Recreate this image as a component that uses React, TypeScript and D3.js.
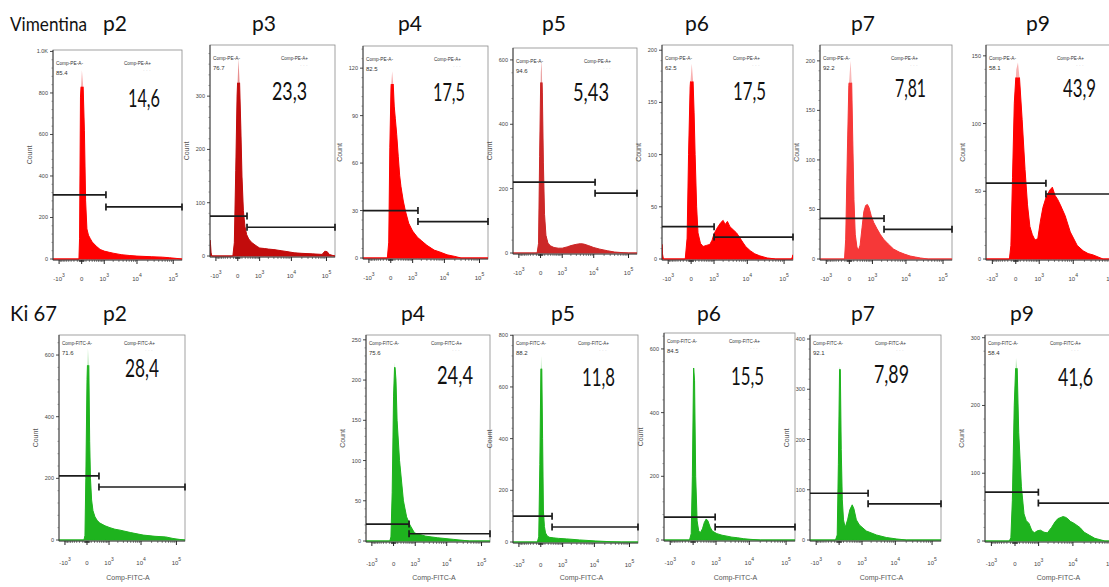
import React from "react";
import * as d3 from "d3";

type Pt = [number, number];

// ---------------- shared axis values ----------------
const SYMLOG_CONSTANT = 320;
const xDomain: [number, number] = [-1616, 173950];
const xMajorTicks = [-1000, 0, 1000, 10000, 100000];
const xMajorBase = ["-10", "0", "10", "10", "10"];
const xMajorExp = ["3", "", "3", "4", "5"];
const xMinorTicks = [
  -900, -800, -700, -600, -500, -400, -300, -200, -100, -50, -40, -30, -20, -10,
  10, 20, 30, 40, 50, 100, 200, 300, 400, 500, 600, 700, 800, 900,
  2000, 3000, 4000, 5000, 6000, 7000, 8000, 9000,
  20000, 30000, 40000, 50000, 60000, 70000, 80000, 90000,
];

// ---------------- Vimentina (Comp-PE-A) ----------------
const vimSamples = ["p2", "p3", "p4", "p5", "p6", "p7", "p9"];
const vimNegPct = ["85.4", "76.7", "82.5", "94.6", "62.5", "92.2", "58.1"];
const vimPosPct = ["14,6", "23,3", "17,5", "5,43", "17,5", "7,81", "43,9"];
const vimYMax = [1007, 396, 134, 637, 205, 216, 158];
const vimYTicks = [
  [0, 200, 400, 600, 800, 1000],
  [0, 100, 200, 300],
  [0, 30, 60, 90, 120],
  [0, 200, 400, 600],
  [0, 50, 100, 150, 200],
  [0, 50, 100, 150, 200],
  [0, 50, 100, 150],
];
const vimGateX = [1150, 262, 1543, 10950, 1005, 2370, 1660];
const vimGateNegY = [309, 75, 30, 220, 31, 41, 56];
const vimGatePosY = [251, 54, 23, 186, 21, 30, 48];

const vimP2: Pt[] = [[-1616,0],[-60,0],[-45,100],[-25,780],[5,910],[30,840],[60,620],[90,280],[125,145],[170,115],[230,98],[300,82],[500,60],[700,46],[1000,38],[1500,32],[2000,28],[3500,21],[6000,17],[10000,14],[25000,11],[50000,9],[80000,6],[120000,3],[173950,0]];
const vimP3: Pt[] = [[-1616,30],[-1560,24],[-1480,6],[-1400,0],[-120,0],[-80,25],[-45,160],[-15,300],[15,370],[40,325],[70,240],[100,150],[140,85],[190,55],[250,40],[330,32],[450,26],[600,22],[800,18],[1000,15],[1500,14],[2000,13],[3000,12],[5000,10],[8000,8],[12000,6],[20000,5],[40000,4],[75000,3],[90000,9],[105000,8],[120000,3],[150000,1],[173950,0]];
const vimP4: Pt[] = [[-1616,0],[-80,0],[-45,10],[-20,70],[5,108],[30,118],[55,110],[80,96],[110,88],[150,78],[200,64],[250,52],[300,45],[400,36],[500,30],[700,22],[1000,17],[1500,13],[2000,11],[3000,8],[5000,5],[8000,3.5],[12000,2],[20000,1],[30000,0],[173950,0]];
const vimP5: Pt[] = [[-1616,0],[-80,0],[-45,30],[-20,300],[5,560],[22,600],[40,500],[65,280],[95,120],[135,55],[200,30],[300,22],[450,17],[700,15],[1000,15],[1500,19],[2000,23],[3000,27],[4000,29],[5000,28],[7000,23],[10000,17],[15000,12],[25000,7],[40000,3],[70000,1],[100000,0],[173950,0]];
const vimP6: Pt[] = [[-1616,14],[-1560,5],[-1450,0],[-140,0],[-90,20],[-55,100],[-20,165],[13,187],[40,172],[65,140],[90,100],[130,50],[170,25],[250,15],[350,12],[500,13],[700,14],[850,18],[1000,24],[1300,30],[1700,35],[2000,37],[2300,33],[2700,36],[3200,31],[4000,28],[5000,25],[6000,21],[7500,16],[9000,12],[12000,8],[16000,5],[22000,3],[35000,1],[60000,0],[160000,0],[173950,4]];
const vimP7: Pt[] = [[-1616,0],[-110,0],[-80,20],[-40,110],[-10,175],[25,200],[50,178],[75,120],[105,60],[140,25],[190,12],[240,9],[300,14],[380,32],[460,48],[550,54],[650,55],[750,52],[900,44],[1100,37],[1400,31],[1800,25],[2300,20],[3200,15],[4500,10],[6500,7],[9000,5],[13000,3],[18000,2],[25000,1],[40000,0],[173950,0]];
const vimP9: Pt[] = [[-1616,0],[-150,0],[-110,10],[-70,60],[-30,115],[10,140],[45,145],[80,134],[150,103],[240,66],[330,40],[430,24],[550,18],[700,14],[890,15],[1100,28],[1330,38],[1700,46],[2200,51],[2600,53],[3100,47],[3700,44],[4400,40],[6000,32],[8300,20],[12800,10],[18500,6],[25000,4],[34000,3],[62000,0],[173950,0]];
const vimHists = [vimP2, vimP3, vimP4, vimP5, vimP6, vimP7, vimP9];

// ---------------- Ki 67 (Comp-FITC-A) ----------------
const kiSamples = ["p2", "p4", "p5", "p6", "p7", "p9"];
const kiNegPct = ["71.6", "75.6", "88.2", "84.5", "92.1", "58.4"];
const kiPosPct = ["28,4", "24,4", "11,8", "15,5", "7,89", "41,6"];
const kiYMax = [665, 256, 801, 650, 408, 304];
const kiYTicks = [
  [0, 200, 400, 600],
  [0, 50, 100, 150, 200, 250],
  [0, 200, 400, 600, 800],
  [0, 200, 400, 600],
  [0, 100, 200, 300, 400],
  [0, 100, 200, 300],
];
const kiGateX = [370, 560, 345, 930, 1600, 980];
const kiGateNegY = [208, 21, 100, 72, 93, 72];
const kiGatePosY = [172, 9, 58, 41, 72, 56];

const kiP2: Pt[] = [[-1616,0],[-70,0],[-45,15],[-25,200],[0,520],[20,622],[40,567],[60,320],[80,200],[110,130],[150,95],[215,75],[300,63],[410,55],[700,46],[1080,40],[1600,35],[2350,32],[5000,24],[11500,16],[25000,12],[50000,10],[80000,5],[120000,2],[173950,0]];
const kiP4: Pt[] = [[-1616,0],[-90,0],[-60,5],[-30,60],[0,180],[25,222],[55,200],[83,150],[153,100],[290,50],[430,30],[610,20],[940,10],[1500,8],[2300,6],[5400,4],[16000,2],[45000,0],[173950,0]];
const kiP5: Pt[] = [[-1616,0],[-80,0],[-45,20],[-20,300],[5,720],[22,670],[40,400],[60,120],[85,60],[115,35],[175,22],[250,18],[400,16],[700,14],[1400,12],[3600,8],[11000,4],[30000,1],[60000,0],[173950,0]];
const kiP6: Pt[] = [[-1616,0],[-80,0],[-40,20],[-15,200],[10,545],[30,500],[55,200],[90,60],[130,30],[175,22],[250,35],[320,55],[400,66],[480,60],[600,40],[730,28],[1070,20],[1600,15],[2300,12],[3200,9],[4700,7],[7000,4],[11000,2],[20000,0],[173950,0]];
const kiP7: Pt[] = [[-1616,0],[-80,0],[-40,10],[-15,150],[10,345],[25,340],[45,180],[70,80],[100,40],[145,25],[220,40],[300,60],[400,70],[480,62],[610,40],[800,30],[1400,18],[2900,10],[5600,5],[11000,2],[20000,0],[173950,0]];
const kiP9: Pt[] = [[-1616,0],[-130,0],[-90,5],[-55,60],[-15,200],[20,270],[45,255],[80,160],[150,80],[230,40],[310,30],[420,26],[550,16],[700,12],[900,15],[1150,16],[1500,13],[1920,12],[2550,20],[3200,28],[3870,33],[5400,36],[6300,35],[7250,33],[8500,29],[10800,26],[15400,20],[20000,13],[28400,8],[38000,4],[52000,2],[70000,0],[173950,0]];
const kiHists = [kiP2, kiP4, kiP5, kiP6, kiP7, kiP9];

// ---------------- layout / style ----------------
type Lay = { L: number; R: number; T: number; y0: number; titleX: number; numX: number; numY: number; numW: number; solid: number };
const vimLayout: Lay[] = [
  { L: 53, R: 182, T: 50, y0: 259, titleX: 103, numX: 128, numY: 107, numW: 32, solid: 830 },
  { L: 210, R: 335, T: 45, y0: 256, titleX: 252, numX: 272, numY: 100, numW: 35, solid: 325 },
  { L: 363, R: 488, T: 46, y0: 258, titleX: 398, numX: 433, numY: 101, numW: 32, solid: 110 },
  { L: 513, R: 637, T: 48, y0: 253, titleX: 542, numX: 573, numY: 101, numW: 36, solid: 530 },
  { L: 662, R: 793, T: 45, y0: 259, titleX: 685, numX: 733, numY: 100, numW: 33, solid: 170 },
  { L: 820, R: 952, T: 45, y0: 259, titleX: 851, numX: 895, numY: 97, numW: 31, solid: 178 },
  { L: 986, R: 1120, T: 45, y0: 259, titleX: 1026, numX: 1063, numY: 97, numW: 33, solid: 134 },
];
const kiLayout: Lay[] = [
  { L: 59, R: 185, T: 335, y0: 540, titleX: 103, numX: 125, numY: 377, numW: 34, solid: 567 },
  { L: 366, R: 490, T: 335, y0: 541, titleX: 401, numX: 437, numY: 384, numW: 36, solid: 216 },
  { L: 513, R: 638, T: 335, y0: 542, titleX: 551, numX: 582, numY: 386, numW: 33, solid: 670 },
  { L: 664, R: 795, T: 333, y0: 540, titleX: 697, numX: 731, numY: 385, numW: 33, solid: 540 },
  { L: 810, R: 941, T: 335, y0: 540, titleX: 851, numX: 874, numY: 383, numW: 35, solid: 340 },
  { L: 985, R: 1120, T: 335, y0: 541, titleX: 1010, numX: 1058, numY: 386, numW: 35, solid: 255 },
];
const vimFill = ["#ff0000", "#c20c0c", "#ff0000", "#cc2828", "#ff0000", "#f63838", "#ff0000"];
const vimTip = ["#f8b0b0", "#e89090", "#f8b0b0", "#eaa0a0", "#f8b0b0", "#f8b8b8", "#f8b0b0"];
const kiFill = "#1eb31e";
const kiTip = "#b8e8b8";

const SMALL_FONT = "'Liberation Sans', Arial, sans-serif";
const TITLE_FONT = "Lato, 'Open Sans', sans-serif";

type PanelProps = {
  id: string;
  lay: Lay;
  hist: Pt[];
  yMax: number;
  yTicks: number[];
  gateX: number;
  gateNegY: number;
  gatePosY: number;
  negPct: string;
  posNum: string;
  fill: string;
  tip: string;
  marker: string;
  topRow: boolean;
};

function Panel(p: PanelProps) {
  const { lay, hist, yMax, yTicks } = p;
  const x = d3.scaleSymlog().constant(SYMLOG_CONSTANT).domain(xDomain).range([lay.L, lay.R]);
  const y = d3.scaleLinear().domain([0, yMax]).range([lay.y0, lay.T]);
  const axisY = lay.y0 + 1;
  const area = d3
    .area<Pt>()
    .x((d) => x(d[0]))
    .y0(y(0))
    .y1((d) => y(d[1]));
  const path = area(hist) || "";
  const clipId = `clip-${p.id}`;
  const solidId = `solid-${p.id}`;
  const step = yTicks[1] - yTicks[0];
  const minorY: number[] = [];
  for (let k = 1; k * (step / 5) < yMax; k++) {
    if (k % 5 !== 0) minorY.push(k * (step / 5));
  }
  const fmt = (v: number) => (v >= 1000 ? (v / 1000).toFixed(1) + "K" : String(v));
  const xL = x(xDomain[0]);
  const xR = x(xDomain[1]);
  const xg = x(p.gateX);
  const yn = y(p.gateNegY);
  const yp = y(p.gatePosY);
  const cap = 3.5;
  const labelDy = p.topRow ? 21 : 24;
  const txtTop = p.topRow ? 15 : 10;
  const isPE = p.marker === "PE";
  return (
    <g>
      <defs>
        <clipPath id={clipId}>
          <rect x={lay.L} y={lay.T} width={lay.R - lay.L} height={axisY - lay.T} />
        </clipPath>
        <clipPath id={solidId}>
          <rect x={lay.L} y={y(lay.solid)} width={lay.R - lay.L} height={axisY - y(lay.solid)} />
        </clipPath>
      </defs>
      {/* frame */}
      <rect x={lay.L} y={lay.T} width={lay.R - lay.L} height={axisY - lay.T} fill="none" stroke="#8a8a8a" strokeWidth={0.8} />
      {/* histogram */}
      <g clipPath={`url(#${clipId})`}>
        <path d={path} fill={p.tip} />
        <g clipPath={`url(#${solidId})`}>
          <path d={path} fill={p.fill} stroke={p.fill} strokeWidth={1} />
        </g>
      </g>
      {/* axes */}
      <line x1={lay.L} x2={lay.L} y1={lay.T} y2={axisY} stroke="#333" strokeWidth={0.9} />
      <line x1={lay.L} x2={lay.R} y1={axisY} y2={axisY} stroke="#333" strokeWidth={0.9} />
      {yTicks.map((v) => (
        <g key={"y" + v}>
          <line x1={lay.L - 3} x2={lay.L} y1={y(v)} y2={y(v)} stroke="#333" strokeWidth={0.9} />
          <text x={lay.L - 5} y={y(v) + 2} fontSize={5.5} textAnchor="end" fill="#444" fontFamily={SMALL_FONT}>
            {fmt(v)}
          </text>
        </g>
      ))}
      {minorY.map((v) => (
        <line key={"ym" + v} x1={lay.L - 1.5} x2={lay.L} y1={y(v)} y2={y(v)} stroke="#555" strokeWidth={0.6} />
      ))}
      {xMinorTicks.map((v) => (
        <line key={"xm" + v} x1={x(v)} x2={x(v)} y1={axisY} y2={axisY + 2} stroke="#333" strokeWidth={0.6} />
      ))}
      {xMajorTicks.map((v, i) => (
        <g key={"x" + v}>
          <line x1={x(v)} x2={x(v)} y1={axisY} y2={axisY + 4} stroke="#222" strokeWidth={1} />
          <text x={x(v)} y={axisY + labelDy} fontSize={6} textAnchor="middle" fill="#444" fontFamily={SMALL_FONT}>
            {xMajorBase[i]}
            {xMajorExp[i] && (
              <tspan dy={-4} fontSize={5}>
                {xMajorExp[i]}
              </tspan>
            )}
          </text>
        </g>
      ))}
      <text
        transform={`translate(${lay.L - 21},${(lay.T + axisY) / 2}) rotate(-90)`}
        fontSize={7}
        textAnchor="middle"
        fill="#555"
        fontFamily={SMALL_FONT}
      >
        Count
      </text>
      {!p.topRow && (
        <text x={(lay.L + lay.R) / 2 + 6} y={580} fontSize={7} textAnchor="middle" fill="#555" fontFamily={SMALL_FONT}>
          Comp-FITC-A
        </text>
      )}
      {/* gates */}
      <g stroke="#1c1c1c" strokeWidth={1.7}>
        <line x1={xL} x2={xg} y1={yn} y2={yn} />
        <line x1={xg} x2={xg} y1={yn - cap} y2={yn + cap} />
        <line x1={xg} x2={xR} y1={yp} y2={yp} />
        <line x1={xg} x2={xg} y1={yp - cap} y2={yp + cap} />
        <line x1={xR} x2={xR} y1={yp - cap} y2={yp + cap} />
      </g>
      {/* gate annotations */}
      <text
        x={lay.L + 3}
        y={lay.T + txtTop}
        fontSize={6}
        fill="#333"
        fontFamily={SMALL_FONT}
        textLength={isPE ? 27 : 30}
        lengthAdjust="spacingAndGlyphs"
      >
        {isPE ? "Comp-PE-A-" : "Comp-FITC-A-"}
      </text>
      <text x={lay.L + 3} y={lay.T + txtTop + 10} fontSize={6} fill="#333" fontFamily={SMALL_FONT}>
        {p.negPct}
      </text>
      <text
        x={lay.L + (p.topRow ? 71 : 65)}
        y={lay.T + txtTop}
        fontSize={6}
        fill="#333"
        fontFamily={SMALL_FONT}
        textLength={isPE ? 27 : 31}
        lengthAdjust="spacingAndGlyphs"
      >
        {isPE ? "Comp-PE-A+" : "Comp-FITC-A+"}
      </text>
      <text x={lay.L + (p.topRow ? 90 : 86)} y={lay.T + txtTop + 7} fontSize={5} fill="#c8c8c8" fontFamily={SMALL_FONT}>
        · · ·
      </text>
      <text
        x={lay.numX}
        y={lay.numY}
        fontSize={25}
        fill="#111"
        fontFamily={TITLE_FONT}
        textLength={lay.numW}
        lengthAdjust="spacingAndGlyphs"
      >
        {p.posNum}
      </text>
    </g>
  );
}

export default function App() {
  return (
    <svg
      width={1109}
      height={587}
      viewBox="0 0 1109 587"
      style={{ position: "absolute", left: 0, top: 0, display: "block", background: "#ffffff" }}
    >
      <rect x={0} y={0} width={1109} height={587} fill="#ffffff" />
      {/* row titles */}
      <text x={10} y={31} fontSize={20} fill="#111" fontFamily={TITLE_FONT} textLength={77} lengthAdjust="spacingAndGlyphs">
        Vimentina
      </text>
      <text x={10} y={321} fontSize={21} fill="#111" fontFamily={TITLE_FONT} textLength={47} lengthAdjust="spacingAndGlyphs">
        Ki 67
      </text>
      {vimSamples.map((s, i) => (
        <text key={"vt" + s} x={vimLayout[i].titleX} y={31} fontSize={21} fill="#111" fontFamily={TITLE_FONT}>
          {s}
        </text>
      ))}
      {kiSamples.map((s, i) => (
        <text key={"kt" + s} x={kiLayout[i].titleX} y={321} fontSize={21} fill="#111" fontFamily={TITLE_FONT}>
          {s}
        </text>
      ))}
      {vimSamples.map((s, i) => (
        <Panel
          key={"v" + s}
          id={"v" + s}
          lay={vimLayout[i]}
          hist={vimHists[i]}
          yMax={vimYMax[i]}
          yTicks={vimYTicks[i]}
          gateX={vimGateX[i]}
          gateNegY={vimGateNegY[i]}
          gatePosY={vimGatePosY[i]}
          negPct={vimNegPct[i]}
          posNum={vimPosPct[i]}
          fill={vimFill[i]}
          tip={vimTip[i]}
          marker="PE"
          topRow={true}
        />
      ))}
      {kiSamples.map((s, i) => (
        <Panel
          key={"k" + s}
          id={"k" + s}
          lay={kiLayout[i]}
          hist={kiHists[i]}
          yMax={kiYMax[i]}
          yTicks={kiYTicks[i]}
          gateX={kiGateX[i]}
          gateNegY={kiGateNegY[i]}
          gatePosY={kiGatePosY[i]}
          negPct={kiNegPct[i]}
          posNum={kiPosPct[i]}
          fill={kiFill}
          tip={kiTip}
          marker="FITC"
          topRow={false}
        />
      ))}
    </svg>
  );
}
